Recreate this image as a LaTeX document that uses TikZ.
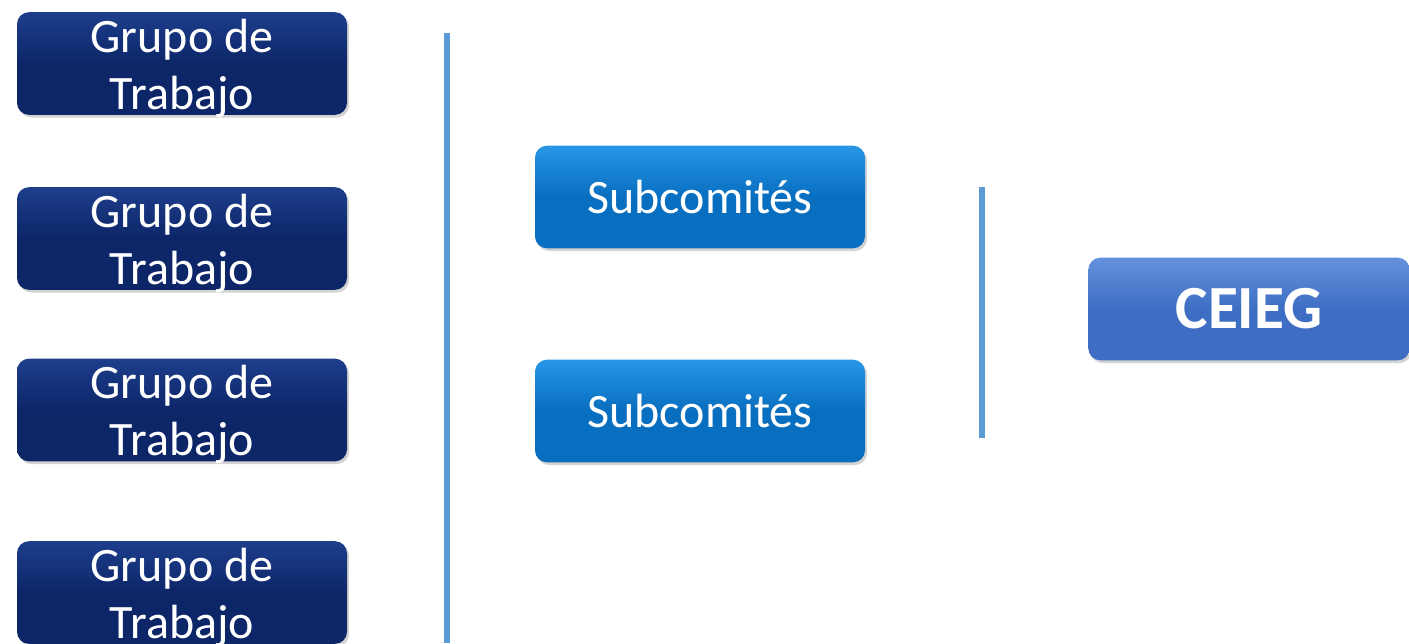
\documentclass[tikz,border=0pt]{standalone}
\usepackage{fontspec}
\setmainfont{Carlito}
\usetikzlibrary{positioning,shadows}

\definecolor{navyg}{RGB}{12,38,104}
\definecolor{navyt}{RGB}{30,62,140}
\definecolor{subb}{RGB}{8,110,192}
\definecolor{subt}{RGB}{40,150,230}
\definecolor{ceb}{RGB}{62,110,196}
\definecolor{cet}{RGB}{100,145,220}
\definecolor{sepline}{RGB}{91,155,213}

\newcommand{\doslineas}[2]{\raisebox{-10.5pt}[36pt][36pt]{\begin{tabular}{@{}c@{}}#1\\#2\end{tabular}}}

\tikzset{
  caja/.style={rounded corners=9pt, minimum width=247.5pt, minimum height=77pt,
    text=white, align=center, inner sep=0pt, drop shadow={opacity=0.35,shadow xshift=1.5pt,shadow yshift=-2pt},
    font=\fontsize{36}{43}\selectfont},
  grupo/.style={caja, top color=navyt, bottom color=navyg, middle color=navyg},
  subc/.style={caja, top color=subt, bottom color=subb, middle color=subb},
  ceieg/.style={caja, minimum width=241pt, top color=cet, bottom color=ceb, middle color=ceb,
    font=\fontsize{46}{50}\selectfont\bfseries},
  separa/.style={draw=sepline, line width=4.5pt}
}

\begin{document}
\begin{tikzpicture}[x=0.75pt,y=0.75pt,yscale=-1,xscale=1]
\path[use as bounding box] (0,0) rectangle (1409,643);

% Grupos de trabajo
\node[grupo] (g1) at (182,63.5) {\doslineas{Grupo de}{Trabajo}};
\node[grupo] (g2) at (182,238.5) {\doslineas{Grupo de}{Trabajo}};
\node[grupo] (g3) at (182,410) {\doslineas{Grupo de}{Trabajo}};
\node[grupo] (g4) at (182,592.5) {\doslineas{Grupo de}{Trabajo}};

% Subcomites
\node[subc] (s1) at (700,197) {Subcomités};
\node[subc] (s2) at (700,411) {Subcomités};

% CEIEG
\node[ceieg] (ce) at (1249,309) {CEIEG};

% lineas
\coordinate (l1a) at (447,33);
\coordinate (l1b) at (447,643);
\coordinate (l2a) at (982,187);
\coordinate (l2b) at (982,438);
\draw[separa] (l1a) -- (l1b);
\draw[separa] (l2a) -- (l2b);

\end{tikzpicture}
\end{document}
